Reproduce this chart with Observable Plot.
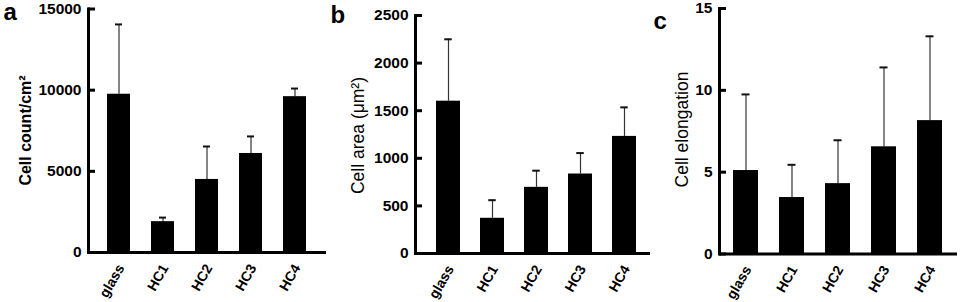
<!DOCTYPE html>
<html><head><meta charset="utf-8">
<script src="https://cdn.jsdelivr.net/npm/d3@7"></script>
<script src="https://cdn.jsdelivr.net/npm/@observablehq/plot@0.6"></script>
<style>
body{margin:0;background:#fff}
#chart{position:relative;width:961px;height:302px;overflow:hidden;background:#fff}
#chart > svg{position:absolute;top:0}
</style></head><body><div id="chart"></div>
<script>
const categories = ["glass", "HC1", "HC2", "HC3", "HC4"];
const cellCount = [9750, 1900, 4500, 6100, 9600];
const cellCountUpper = [14050, 2150, 6530, 7150, 10100];
const cellArea = [1600, 370, 695, 835, 1230];
const cellAreaUpper = [2250, 560, 870, 1055, 1535];
const cellElongation = [5.1, 3.45, 4.3, 6.55, 8.15];
const cellElongationUpper = [9.75, 5.45, 6.95, 11.4, 13.3];
const countTicks = [0, 5000, 10000, 15000];
const areaTicks = [0, 500, 1000, 1500, 2000, 2500];
const elongationTicks = [0, 5, 10, 15];
const panelLetters = ["a", "b", "c"];
const axisTitles = ["Cell count/cm²", "Cell area (μm²)", "Cell elongation"];

const H = 302;
const layouts = [
  {left: 0, width: 330, axisX: 88, axisEnd: 326, top: 8.5, base: 252, pi: 0.467, po: 0.378, align: 0.5,
   letterX: 3, letterY: 19, titleX: 25, titleY: 130, titleWeight: "bold", titleSize: 16},
  {left: 326, width: 326, axisX: 415, axisEnd: 650, top: 15, base: 253, pi: 0.447, po: 0.376, align: 0.6,
   letterX: 330, letterY: 22, titleX: 358, titleY: 135, titleWeight: "normal", titleSize: 17.5},
  {left: 652, width: 309, axisX: 719, axisEnd: 957, top: 8, base: 253.5, pi: 0.457, po: 0.315, align: 0.47,
   letterX: 653, letterY: 28, titleX: 682, titleY: 129, titleWeight: "normal", titleSize: 17.5}
];
const series = [
  {values: cellCount, upper: cellCountUpper, ticks: countTicks},
  {values: cellArea, upper: cellAreaUpper, ticks: areaTicks},
  {values: cellElongation, upper: cellElongationUpper, ticks: elongationTicks}
];

const chart = document.getElementById("chart");
series.forEach((s, k) => {
  const L = layouts[k];
  const data = categories.map((c, i) => ({cat: c, v: s.values[i], u: s.upper[i]}));
  const mL = L.axisX - L.left, mR = L.left + L.width - L.axisEnd, mT = L.top, mB = H - L.base;
  const fw = L.width - mL - mR, fh = H - mT - mB;
  const step = fw / (5 - L.pi + 2 * L.po);
  const bw = step * (1 - L.pi);
  const capInset = Math.max(0, (bw - 8) / 2);
  const svg = Plot.plot({
    width: L.width, height: H,
    marginLeft: mL, marginRight: mR, marginTop: mT, marginBottom: mB,
    style: {fontFamily: "'Liberation Sans', Arial, Helvetica, sans-serif", background: "transparent", overflow: "visible", color: "black"},
    x: {domain: categories, paddingInner: L.pi, paddingOuter: L.po, align: L.align, axis: null},
    y: {domain: [0, s.ticks[s.ticks.length - 1]], axis: null},
    marks: [
      Plot.ruleX(data, {x: "cat", y1: "v", y2: "u", stroke: "#333", strokeWidth: 1.2}),
      Plot.tickY(data, {x: "cat", y: "u", stroke: "#111", strokeWidth: 2, insetLeft: capInset, insetRight: capInset}),
      Plot.barY(data, {x: "cat", y: "v", fill: "black"}),
      Plot.ruleY(s.ticks, {y: d => d, stroke: "black", strokeWidth: 3, insetRight: fw - 7}),
      Plot.ruleY([0], {stroke: "black", strokeWidth: 3}),
      Plot.frame({anchor: "left", stroke: "black", strokeWidth: 3}),
      Plot.text(s.ticks, {y: d => d, text: d => String(d), frameAnchor: "left", dx: -7, textAnchor: "end", lineAnchor: "middle", fontWeight: "bold", fontSize: 15.5, fill: "black"}),
      Plot.text(categories, {x: d => d, text: d => d, frameAnchor: "bottom", dx: 2, dy: 13, rotate: -60, textAnchor: "end", lineAnchor: "middle", fontWeight: "bold", fontSize: 14, fill: "black"}),
      Plot.text([panelLetters[k]], {text: d => d, frameAnchor: "top-left", dx: L.letterX - L.axisX, dy: L.letterY - mT, textAnchor: "start", lineAnchor: "bottom", fontWeight: "bold", fontSize: 24, fill: "black"}),
      Plot.text([axisTitles[k]], {text: d => d, frameAnchor: "left", rotate: -90, dx: L.titleX - L.axisX, dy: L.titleY - (mT + fh / 2), textAnchor: "middle", lineAnchor: "middle", fontWeight: L.titleWeight, fontSize: L.titleSize, fill: "black"})
    ]
  });
  svg.style.left = L.left + "px";
  chart.appendChild(svg);
});
</script>
</body></html>
